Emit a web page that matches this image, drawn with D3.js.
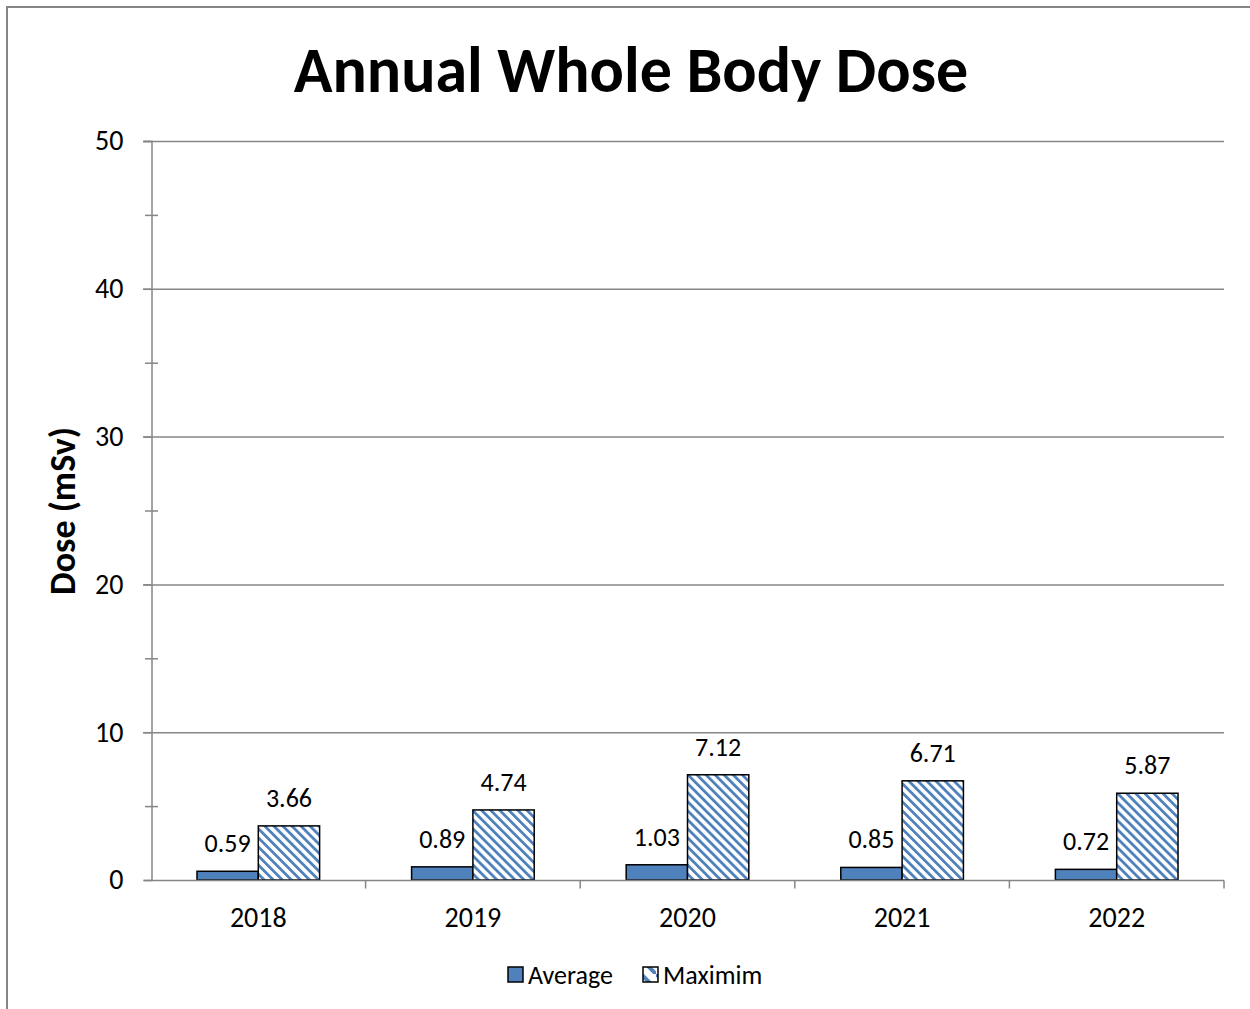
<!DOCTYPE html>
<html>
<head>
<meta charset="utf-8">
<script src="https://cdn.jsdelivr.net/npm/d3@7"></script>
<style>
  html, body { margin: 0; padding: 0; background: #fff; }
  svg { display: block; font-family: Carlito, Lato, "Open Sans", sans-serif; }
</style>
</head>
<body>
<svg id="chart" width="1250" height="1009"></svg>
<script>
// Annual whole body dose, mSv
const years = ["2018", "2019", "2020", "2021", "2022"];
const averageDose = [0.59, 0.89, 1.03, 0.85, 0.72];
const maximumDose = [3.66, 4.74, 7.12, 6.71, 5.87];
const seriesNames = ["Average", "Maximim"];
const yTicks = [0, 10, 20, 30, 40, 50];
const yMinorTicks = [5, 15, 25, 35, 45];

const blue = "#4F81BD";
const axisGrey = "#868686";

const svg = d3.select("#chart");
const defs = svg.append("defs");

// diagonal hatch for the maximum series
const period = 6.4;
const pat = defs.append("pattern")
  .attr("id", "hatch")
  .attr("patternUnits", "userSpaceOnUse")
  .attr("width", period).attr("height", period)
  .attr("patternTransform", "rotate(-45)");
pat.append("rect").attr("width", period).attr("height", period).attr("fill", "#fff");
pat.append("rect").attr("x", 0).attr("y", 0).attr("width", 2.8).attr("height", period).attr("fill", blue);

// coarser hatch for the small legend swatch
const legendPat = defs.append("pattern")
  .attr("id", "hatchLegend")
  .attr("patternUnits", "userSpaceOnUse")
  .attr("width", 15).attr("height", 15)
  .attr("patternTransform", "translate(508,967)");
legendPat.append("rect").attr("width", 15).attr("height", 15).attr("fill", "#fff");
legendPat.append("path").attr("d", "M0,0 L15,15").attr("stroke", blue).attr("stroke-width", 4);

// outer chart frame
svg.append("rect")
  .attr("x", 7).attr("y", 7).attr("width", 1260).attr("height", 1020)
  .attr("fill", "none").attr("stroke", axisGrey).attr("stroke-width", 2);

const plot = { left: 151, right: 1224, top: 141, bottom: 880 };

const x = d3.scaleBand().domain(years).range([plot.left, plot.right]);
// two bars per year, with 1.5 bar widths of gap split between the sides
const barW = x.bandwidth() / 3.5;
const groupOffset = (x.bandwidth() - 2 * barW) / 2;

const y = d3.scaleLinear().domain([0, 50]).range([plot.bottom, plot.top]);

// gridlines
svg.append("g")
  .selectAll("line")
  .data(yTicks.filter(d => d > 0))
  .join("line")
  .attr("x1", plot.left - 8).attr("x2", plot.right)
  .attr("y1", d => y(d) + 0.5).attr("y2", d => y(d) + 0.5)
  .attr("stroke", axisGrey).attr("stroke-width", 1.5);

// y axis
const yAxis = svg.append("g").attr("transform", `translate(${plot.left + 0.5},0)`)
  .call(d3.axisLeft(y).tickValues(yTicks).tickSize(8).tickPadding(20).tickFormat(d3.format("d")));
yAxis.select(".domain").attr("stroke", axisGrey).attr("stroke-width", 1.5);
yAxis.selectAll(".tick line").attr("stroke", axisGrey).attr("stroke-width", 1.5);
yAxis.selectAll(".tick text").attr("font-size", 28).attr("fill", "#000")
  .attr("font-family", "Carlito, Lato, sans-serif");

// minor ticks crossing the axis
svg.append("g").selectAll("line").data(yMinorTicks).join("line")
  .attr("x1", plot.left - 6).attr("x2", plot.left + 7)
  .attr("y1", d => y(d) + 0.5).attr("y2", d => y(d) + 0.5)
  .attr("stroke", axisGrey).attr("stroke-width", 1.5);

// bars
const groups = svg.append("g").selectAll("g").data(years).join("g")
  .attr("transform", d => `translate(${x(d) + groupOffset},0)`);

groups.append("rect")
  .attr("x", 0)
  .attr("y", (d, i) => y(averageDose[i]))
  .attr("width", barW)
  .attr("height", (d, i) => y(0) - y(averageDose[i]))
  .attr("fill", blue).attr("stroke", "#000").attr("stroke-width", 1.5);

groups.append("rect")
  .attr("x", barW)
  .attr("y", (d, i) => y(maximumDose[i]))
  .attr("width", barW)
  .attr("height", (d, i) => y(0) - y(maximumDose[i]))
  .attr("fill", "url(#hatch)").attr("stroke", "#000").attr("stroke-width", 1.5);

// value labels
groups.append("text")
  .attr("x", barW / 2)
  .attr("y", (d, i) => y(averageDose[i]) - 19)
  .attr("text-anchor", "middle").attr("font-size", 26)
  .text((d, i) => averageDose[i].toFixed(2));

groups.append("text")
  .attr("x", barW * 1.5)
  .attr("y", (d, i) => y(maximumDose[i]) - 19)
  .attr("text-anchor", "middle").attr("font-size", 26)
  .text((d, i) => maximumDose[i].toFixed(2));

// x axis
const xAxis = svg.append("g").attr("transform", `translate(0,${plot.bottom + 0.5})`);
xAxis.append("line")
  .attr("x1", plot.left).attr("x2", plot.right)
  .attr("stroke", axisGrey).attr("stroke-width", 1.5);
xAxis.selectAll(".sep").data(years).join("line").attr("class", "sep")
  .attr("x1", d => x(d) + x.bandwidth()).attr("x2", d => x(d) + x.bandwidth())
  .attr("y1", 0).attr("y2", 8)
  .attr("stroke", axisGrey).attr("stroke-width", 1.5);
xAxis.selectAll("text").data(years).join("text")
  .attr("x", d => x(d) + x.bandwidth() / 2)
  .attr("y", 46)
  .attr("text-anchor", "middle").attr("font-size", 28)
  .text(d => d);

// title
svg.append("text")
  .attr("x", 631).attr("y", 92)
  .attr("text-anchor", "middle").attr("font-size", 64).attr("font-weight", "bold")
  .text("Annual Whole Body Dose");

// y axis title
svg.append("text")
  .attr("transform", "translate(75,511) rotate(-90)")
  .attr("text-anchor", "middle").attr("font-size", 36).attr("font-weight", "bold")
  .text("Dose (mSv)");

// legend
const legend = svg.append("g");
const legendItems = [
  { name: seriesNames[0], fill: blue, x: 508 },
  { name: seriesNames[1], fill: "url(#hatchLegend)", x: 643 }
];
legendPat.attr("patternTransform", "translate(643,967)");
const li = legend.selectAll("g").data(legendItems).join("g")
  .attr("transform", d => `translate(${d.x},967)`);
li.append("rect").attr("width", 15).attr("height", 15)
  .attr("fill", d => d.fill).attr("stroke", "#000").attr("stroke-width", 1.5);
li.append("text").attr("x", 20).attr("y", 17).attr("font-size", 26).text(d => d.name);
</script>
</body>
</html>
